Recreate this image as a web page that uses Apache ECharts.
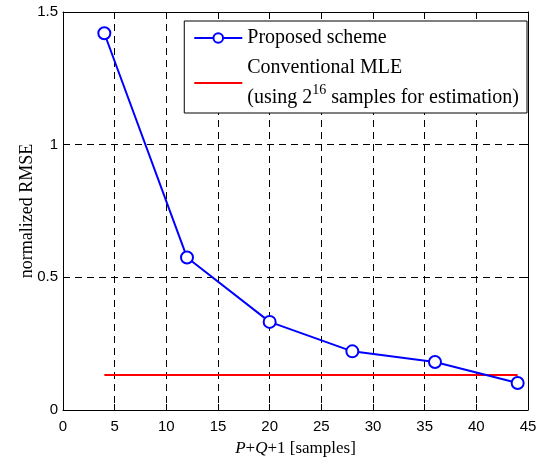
<!DOCTYPE html>
<html>
<head>
<meta charset="utf-8">
<script src="https://cdn.jsdelivr.net/npm/echarts@6/dist/echarts.min.js"></script>
<style>
  html, body { margin: 0; padding: 0; background: #fff; }
  #chart { width: 548px; height: 464px; }
</style>
</head>
<body>
<div id="chart"></div>
<script>
// data
const xTicks = [0, 5, 10, 15, 20, 25, 30, 35, 40, 45]
const proposedX = [4, 12, 20, 28, 36, 44]
const proposedY = [1.42, 0.575, 0.332, 0.221, 0.181, 0.102]
const mleX = [4, 44]
const mleY = [0.132, 0.132]

const serif = '"Liberation Serif", "Times New Roman", serif'
const sans = '"Liberation Sans", Arial, sans-serif'

const myChart = echarts.init(document.getElementById('chart'))

// 网格线 + 内向刻度，仿 MATLAB 风格
const grid = { show: true, type: [7, 5], color: '#000', width: 1 }

myChart.setOption({
  animation: false,
  grid: { left: 63, right: 20, top: 12, bottom: 54 },
  legend: {
    right: 21,
    top: 21,
    orient: 'vertical',
    backgroundColor: '#fff',
    borderColor: '#000',
    borderWidth: 1,
    borderRadius: 0,
    padding: [2, 8, 0, 9],
    itemGap: 0,
    itemWidth: 48,
    itemHeight: 12,
    textStyle: {
      fontFamily: serif, fontSize: 20, color: '#000', lineHeight: 30,
      rich: {
        sup: { fontFamily: serif, fontSize: 14, color: '#000', verticalAlign: 'top', lineHeight: 30, padding: [0, 0, 14, 0] }
      }
    },
    formatter: function (name) {
      if (name === 'mle') return 'Conventional MLE\n(using 2{sup|16} samples for estimation)'
      return 'Proposed scheme'
    },
    data: ['proposed', { name: 'mle', itemStyle: { opacity: 0 } }]
  },
  xAxis: [{
    type: 'value', min: 0, max: 45, interval: 5,
    axisLine: { onZero: false, lineStyle: { color: '#000', width: 1 } },
    axisTick: { inside: true, length: 6, lineStyle: { color: '#000' } },
    axisLabel: { fontFamily: sans, fontSize: 15, color: '#000', margin: 9 },
    splitLine: { lineStyle: grid },
    name: '{i|P}+{i|Q}+1 [samples]',
    nameLocation: 'middle',
    nameGap: 30,
    nameMoveOverlap: false,
    nameTextStyle: {
      fontFamily: serif, fontSize: 17, color: '#000',
      rich: { i: { fontFamily: serif, fontSize: 17, fontStyle: 'italic', color: '#000' } }
    }
  }, {
    type: 'value', min: 0, max: 45, interval: 5, position: 'top',
    axisLine: { onZero: false, lineStyle: { color: '#000', width: 1 } },
    axisTick: { inside: true, length: 6, lineStyle: { color: '#000' } },
    axisLabel: { show: false },
    splitLine: { show: false }
  }],
  yAxis: [{
    type: 'value', min: 0, max: 1.5, interval: 0.5,
    axisLine: { show: true, onZero: false, lineStyle: { color: '#000', width: 1 } },
    axisTick: { show: true, inside: true, length: 6, lineStyle: { color: '#000' } },
    axisLabel: { fontFamily: sans, fontSize: 15, color: '#000', margin: 5 },
    splitLine: { lineStyle: grid },
    name: 'normalized RMSE',
    nameLocation: 'middle',
    nameGap: 27,
    nameMoveOverlap: false,
    nameTextStyle: { fontFamily: serif, fontSize: 18, color: '#000' }
  }, {
    type: 'value', min: 0, max: 1.5, interval: 0.5, position: 'right',
    axisLine: { show: true, onZero: false, lineStyle: { color: '#000', width: 1 } },
    axisTick: { show: true, inside: true, length: 6, lineStyle: { color: '#000' } },
    axisLabel: { show: false },
    splitLine: { show: false }
  }],
  series: [
    {
      name: 'proposed',
      type: 'line',
      data: proposedX.map((x, i) => [x, proposedY[i]]),
      symbol: 'circle',
      symbolSize: 12,
      showAllSymbol: true,
      lineStyle: { color: '#0000ff', width: 2 },
      itemStyle: { color: '#fff', borderColor: '#0000ff', borderWidth: 2 },
      z: 3
    },
    {
      name: 'mle',
      type: 'line',
      data: mleX.map((x, i) => [x, mleY[i]]),
      symbol: 'none',
      lineStyle: { color: '#ff0000', width: 2 },
      itemStyle: { color: '#ff0000' },
      z: 2
    }
  ]
})
</script>
</body>
</html>
